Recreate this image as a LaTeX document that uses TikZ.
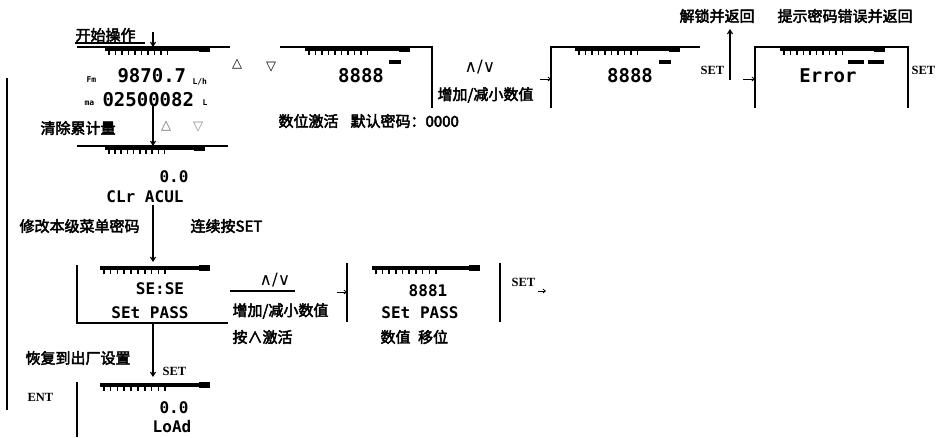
\documentclass[tikz,border=0pt]{standalone}
\usepackage{fontspec}
\usetikzlibrary{arrows.meta}
\newfontfamily\cjkb[FakeBold=3]{Noto Sans CJK SC}
\newfontfamily\lcd{DejaVu Sans Mono}
\newfontfamily\sym{DejaVu Sans}
\newfontfamily\latb{Liberation Serif}
% LCD top bar: #1 = left x, #2 = right x, #3 = y
\newcommand\lcdbar[3]{%
  \fill (#1,#3) rectangle (#2,#3+3.5);
  \fill (#2-11,#3-1) rectangle (#2,#3+5);
  \foreach \k in {0,...,9}{\fill ({#1+3+\k*(#2-#1)*0.062},#3+3.5) rectangle ++(1.6,4);}
}
\begin{document}
\begin{tikzpicture}[x=1pt,y=-1pt,line width=1.1pt,
  lab/.style={font=\cjkb\fontsize{15}{16}\selectfont,inner sep=0pt,anchor=west},
  lcdt/.style={font=\lcd\bfseries\fontsize{19}{19}\selectfont,inner sep=0pt},
  lcds/.style={font=\lcd\bfseries\fontsize{16}{16}\selectfont,inner sep=0pt},
  tiny/.style={font=\lcd\bfseries\fontsize{8}{8}\selectfont,inner sep=0pt},
  key/.style={font=\latb\bfseries\fontsize{12.5}{12.5}\selectfont,inner sep=0pt,anchor=west},
  symb/.style={font=\sym\fontsize{13}{13}\selectfont,inner sep=0pt},
  updn/.style={font=\sym\fontsize{17}{17}\selectfont,inner sep=0pt},
  arr/.style={-{Straight Barb[length=4pt,width=5pt]}},
  sarr/.style={-{Straight Barb[length=2.5pt,width=4pt]},line width=0.8pt}]
\useasboundingbox[fill=white] (0,0) rectangle (939,437);

% ---------- left return line
\coordinate (lt) at (7,78); \coordinate (lb) at (7,410);
\draw (lt) -- (lb);

% ---------- display 1
\node[lab] (opn) at (75,35) {开始操作};
\draw (75,43) -- (145,43);
\coordinate (d1in) at (153,47); \coordinate (d1src) at (153,32);
\draw[arr] (d1src) -- (d1in);
\draw (77,47) -- (230,47);
\lcdbar{105}{210}{47}
\node[tiny,anchor=west] (fm) at (86,80) {Fm};
\node[lcdt,anchor=west] (flow) at (117,76) {9870.7};
\node[tiny,anchor=west] (lh) at (192,82) {L/h};
\node[tiny,anchor=west] (ma) at (84,103) {ma};
\node[lcdt,anchor=west] (tot) at (102,100) {02500082};
\node[tiny,anchor=west] (ll) at (202,103) {L};
\node[symb] (up1) at (237,64) {△};
\node[symb] (dn1) at (271,67) {▽};

% ---------- display 2
\draw (280,47) -- (432,47) -- (432,108);
\lcdbar{305}{410}{47}
\fill (389,60) rectangle (401,64);
\node[lcdt] (d2t) at (361,76) {8888};
\node[lab] (act) at (278,121) {数位激活\hspace{0.8em}默认密码：0000};

% ---------- increase / decrease
\node[updn] (ud1) at (480,67) {∧/∨};
\node[lab] (inc1) at (437,95) {增加/减小数值};
\coordinate (a3s) at (540,79); \coordinate (a3e) at (551,79);
\draw[sarr] (a3s) -- (a3e);

% ---------- display 3
\draw (551,108) -- (551,47) -- (700,47);
\lcdbar{575}{680}{47}
\fill (659,60) rectangle (671,64);
\node[lcdt] (d3t) at (630,76) {8888};
\node[key] (set1) at (700,70) {SET};
\coordinate (ub) at (730,80); \coordinate (ut) at (730,29);
\draw[arr] (ub) -- (ut);
\node[lab] (unl) at (679,16) {解锁并返回};
\node[lab] (err) at (777,16) {提示密码错误并返回};
\coordinate (a4s) at (743,79); \coordinate (a4e) at (755,79);
\draw[sarr] (a4s) -- (a4e);

% ---------- display 4
\draw (755,108) -- (755,47) -- (908,47) -- (908,108);
\lcdbar{780}{885}{47}
\fill (848,60) rectangle (864,64);
\fill (868,60) rectangle (884,64);
\node[lcdt] (d4t) at (828,76) {Error};
\node[key] (set2) at (911,70) {SET};

% ---------- display 5 (clear total)
\coordinate (d5src) at (153,105); \coordinate (d5in) at (153,146);
\draw[arr] (d5src) -- (d5in);
\node[lab] (clr) at (40,128) {清除累计量};
\node[symb,text=black!60] (up2) at (166,126) {△};
\node[symb,text=black!45] (dn2) at (198,127) {▽};
\draw (77,146) -- (228,146);
\lcdbar{105}{205}{146}
\node[lcds] (d5a) at (174,177) {0.0};
\node[lcds] (d5b) at (145,197) {CLr ACUL};

% ---------- display 6 (set password)
\coordinate (d6src) at (153,205); \coordinate (d6in) at (153,262);
\draw[arr] (d6src) -- (d6in);
\node[lab] (mod) at (19,226) {修改本级菜单密码};
\node[lab] (cont) at (190,226) {连续按SET};
\draw (77,265) -- (77,323) -- (228,323);
\lcdbar{100}{210}{266}
\node[lcds] (d6a) at (160,289) {SE:SE};
\node[lcds] (d6b) at (150,313) {SEt PASS};

\node[updn] (ud2) at (275,280) {∧/∨};
\draw (230,291) -- (295,291);
\node[lab] (inc2) at (232,311) {增加/减小数值};
\node[lab] (prs) at (232,337) {按∧激活};
\draw (347,263) -- (347,322);
\coordinate (a6s) at (337,292); \coordinate (a6e) at (347,292);
\draw[sarr] (a6s) -- (a6e);

% ---------- display 7
\lcdbar{372}{480}{266}
\node[lcds] (d7a) at (428,291) {8881};
\node[lcds] (d7b) at (420,313) {SEt PASS};
\node[lab] (shift) at (380,337) {数值\hspace{0.5em}移位};
\draw (500,263) -- (500,322);
\node[key] (set3) at (511,282) {SET};
\coordinate (a7s) at (538,291); \coordinate (a7e) at (546,291);
\draw[sarr] (a7s) -- (a7e);

% ---------- display 8 (factory reset)
\coordinate (d8src) at (153,323); \coordinate (d8in) at (153,377);
\draw[arr] (d8src) -- (d8in);
\node[lab] (fac) at (25,358) {恢复到出厂设置};
\node[key] (set4) at (162,371) {SET};
\node[key] (ent) at (27,397) {ENT};
\draw (77,382) -- (77,437);
\lcdbar{100}{210}{383}
\node[lcds] (d8a) at (174,408) {0.0};
\node[lcds] (d8b) at (172,427) {LoAd};
\end{tikzpicture}
\end{document}
